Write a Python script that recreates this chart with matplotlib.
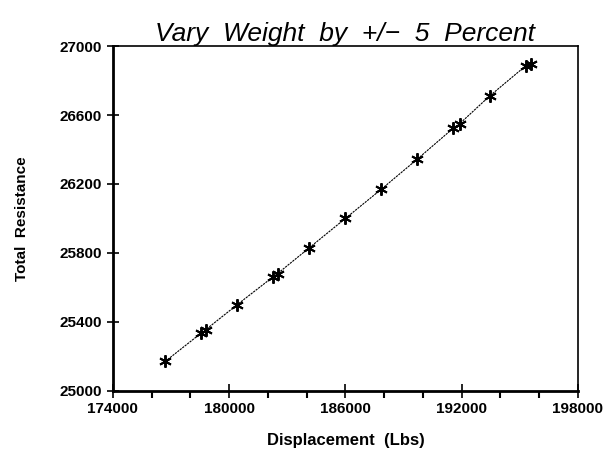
import matplotlib
matplotlib.use("Agg")
import matplotlib.pyplot as plt

# displacement vs. total resistance, weight varied +/- 5 percent
displacement = [176700, 178560, 178800, 180420, 182280, 182500, 184140, 186000,
                187860, 189720, 191580, 191900, 193440, 195300, 195600]
resistance = [25170, 25335, 25355, 25500, 25662, 25680, 25830, 26000,
              26170, 26345, 26525, 26550, 26710, 26885, 26895]

x_major = [174000, 180000, 186000, 192000, 198000]
x_minor = [176000, 178000, 182000, 184000, 188000, 190000, 194000, 196000]
y_major = [25000, 25400, 25800, 26200, 26600, 27000]

plt.rcParams["font.family"] = ["Liberation Sans", "DejaVu Sans"]

fig = plt.figure(figsize=(6.07, 4.57), dpi=100)
ax = fig.add_axes([0.186, 0.145, 0.766, 0.754])

ax.plot(displacement, resistance, color="black", lw=0.8, ls=(0, (2, 0.8)),
        marker=(6, 2, 0), markersize=9, markeredgewidth=1.4)

ax.set_xlim(174000, 198000)
ax.set_ylim(25000, 27000)
ax.set_xticks(x_major)
ax.set_xticks(x_minor, minor=True)
ax.set_yticks(y_major)

ax.tick_params(axis="x", which="major", direction="inout", length=10, width=1.2,
               labelsize=11, pad=3)
ax.tick_params(axis="x", which="minor", direction="out", length=5, width=1.5)
ax.tick_params(axis="y", which="major", direction="inout", length=8, width=1.2,
               labelsize=11, pad=4)
for lbl in ax.get_xticklabels() + ax.get_yticklabels():
    lbl.set_fontweight("bold")

for s in ["left", "bottom"]:
    ax.spines[s].set_linewidth(2)
for s in ["top", "right"]:
    ax.spines[s].set_linewidth(1.2)

ax.set_title("Vary  Weight  by  +/\u2212  5  Percent", fontsize=19, style="italic",
             pad=4)
ax.set_xlabel("Displacement  (Lbs)", fontsize=12, fontweight="bold", labelpad=12)
ax.set_ylabel("Total  Resistance", fontsize=11, fontweight="bold", labelpad=22)

fig.savefig("out.png", dpi=100)
